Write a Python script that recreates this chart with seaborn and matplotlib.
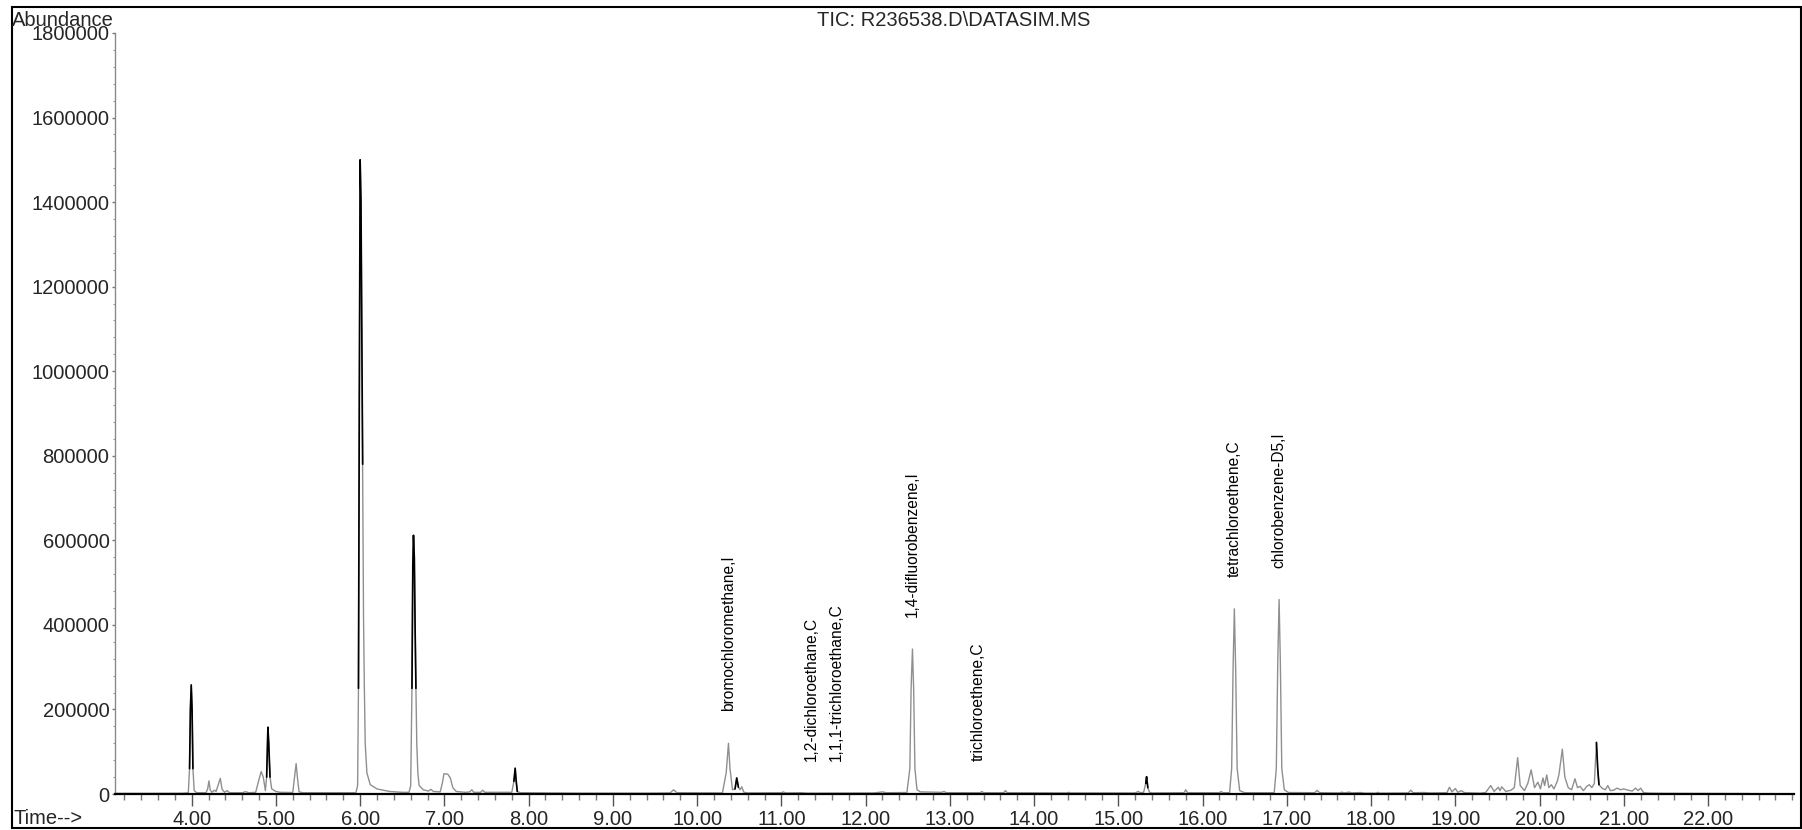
import numpy as np
import pandas as pd
import matplotlib
matplotlib.use("Agg")
import matplotlib.pyplot as plt
from matplotlib.patches import Rectangle
from matplotlib.ticker import MultipleLocator, FixedLocator, FuncFormatter
import seaborn as sns

# ---- TIC trace (retention time in minutes, abundance) ----
early_time = [3.09, 3.50, 3.90, 3.96, 3.975, 3.985, 3.995, 4.005, 4.015, 4.03, 4.06,
              4.17, 4.19, 4.205, 4.22, 4.24, 4.27, 4.29, 4.32, 4.34, 4.36, 4.39, 4.42,
              4.45, 4.60, 4.64, 4.68, 4.76, 4.80, 4.825, 4.85, 4.875, 4.89, 4.905,
              4.915, 4.93, 4.95, 5.00, 5.05, 5.20, 5.225, 5.24, 5.255, 5.275, 5.32,
              5.95, 5.97, 5.98, 5.99, 6.00, 6.01, 6.02, 6.03, 6.04, 6.05, 6.06, 6.08,
              6.12, 6.20, 6.35, 6.50, 6.58, 6.60, 6.615, 6.625, 6.633, 6.643, 6.652,
              6.662, 6.672, 6.685, 6.70, 6.75, 6.81, 6.84, 6.87, 6.95, 6.975, 6.995,
              7.04, 7.07, 7.10, 7.14, 7.25, 7.30, 7.325, 7.35, 7.43, 7.455, 7.48,
              7.80, 7.825, 7.84, 7.85, 7.865, 7.90, 8.20]
early_abund = [1500, 1500, 1800, 3000, 60000, 200000, 258000, 200000, 60000, 8000, 3000,
               3000, 12000, 31000, 10000, 4000, 9000, 6000, 25000, 37000, 12000, 4000, 8000,
               3000, 3000, 5500, 3000, 4000, 35000, 53000, 40000, 8000, 40000, 158000,
               120000, 40000, 12000, 6000, 4000, 3500, 45000, 72000, 40000, 5000, 3000,
               3000, 20000, 250000, 930000, 1500000, 1400000, 1080000, 780000, 420000,
               250000, 120000, 50000,
               22000, 12000, 6000, 4000, 4000, 20000, 250000, 540000, 612000, 560000, 400000,
               250000, 120000, 50000, 20000, 10000, 7000, 11000, 6000, 5000, 25000, 48000,
               47000, 38000, 15000, 6000, 4000, 5000, 10000, 4000, 4000, 9000, 4000,
               4000, 30000, 61000, 35000, 6000, 3000, 2500]

mid_time = [8.60, 9.40, 9.68, 9.72, 9.76, 10.30, 10.345, 10.372, 10.39, 10.42, 10.45,
            10.47, 10.49, 10.51, 10.53, 10.555, 10.60, 11.00, 11.02, 11.05, 11.24, 11.30,
            12.10, 12.20, 12.25, 12.49, 12.525, 12.54, 12.556, 12.57, 12.585, 12.61, 12.65,
            12.90, 12.93, 12.96, 13.36, 13.38, 13.40, 13.64, 13.66, 13.68, 14.39, 14.41,
            14.43, 14.70, 15.20, 15.235, 15.26, 15.30, 15.325, 15.335, 15.35, 15.37, 15.40,
            15.78, 15.80, 15.82, 16.00]
mid_abund = [2000, 2000, 2500, 10000, 3000, 2500, 50000, 120000, 60000, 10000, 12000,
             38000, 16000, 10000, 17000, 4000, 2500, 3000, 5000, 2500, 3000, 2000,
             2500, 5000, 3000, 3500, 60000, 250000, 343000, 250000, 60000, 10000, 5000,
             4000, 6000, 3000, 3000, 6000, 3000, 3000, 8000, 3000, 2500, 4000,
             2500, 2500, 2500, 6000, 3000, 4000, 25000, 41000, 15000, 4000, 2500,
             3000, 10000, 3000, 3000]

late_time = [16.20, 16.22, 16.24, 16.32, 16.345, 16.362, 16.377, 16.392, 16.41, 16.44, 16.50,
             16.85, 16.875, 16.893, 16.908, 16.923, 16.94, 16.97, 17.02, 17.33, 17.36, 17.39,
             17.63, 17.65, 17.68, 17.74, 17.77, 17.88, 17.92, 18.06, 18.08, 18.10, 18.44,
             18.47, 18.50, 18.63, 18.70, 18.90, 18.93, 18.96, 19.00, 19.03, 19.07, 19.11,
             19.30, 19.36, 19.42, 19.46, 19.51, 19.53, 19.55, 19.60, 19.66, 19.70, 19.74,
             19.77, 19.82, 19.86, 19.90, 19.94, 19.98, 20.01, 20.04, 20.06, 20.085, 20.11,
             20.14, 20.17, 20.21, 20.23, 20.27, 20.30, 20.34, 20.38, 20.42, 20.45, 20.48,
             20.52, 20.56, 20.59, 20.62, 20.65, 20.675, 20.69, 20.705, 20.74, 20.78, 20.81,
             20.84, 20.88, 20.92, 20.96, 21.00, 21.05, 21.10, 21.14, 21.17, 21.20, 21.235,
             21.30, 21.50, 22.50]
late_abund = [3000, 6000, 3000, 3000, 60000, 300000, 438000, 300000, 60000, 8000, 3000,
              3000, 60000, 320000, 460000, 310000, 60000, 10000, 3500, 3000, 8500, 3000,
              2500, 4500, 2500, 4500, 2500, 3500, 2000, 2000, 4000, 2000, 2500,
              9000, 3000, 3500, 2500, 3000, 16000, 5000, 13000, 4000, 8000, 3000,
              2000, 3500, 20000, 6000, 16000, 8000, 17000, 6000, 9000, 15000, 86000,
              20000, 8000, 25000, 57000, 15000, 28000, 12000, 38000, 20000, 45000, 15000,
              22000, 12000, 30000, 46000, 106000, 40000, 15000, 10000, 36000, 15000, 18000,
              8000, 18000, 22000, 15000, 25000, 122000, 60000, 22000, 14000, 10000, 20000,
              8000, 9000, 14000, 10000, 12000, 9000, 7000, 14000, 8000, 14000, 3000,
              2000, 1500, 1000]

# ---- identified compounds ----
compounds = ["bromochloromethane,I", "1,2-dichloroethane,C", "1,1,1-trichloroethane,C",
             "1,4-difluorobenzene,I", "trichloroethene,C", "tetrachloroethene,C",
             "chlorobenzene-D5,I"]
compound_rt = [10.372, 11.355, 11.656, 12.556, 13.334, 16.377, 16.908]

# peaks whose apex region is drawn in solid black
dark_rt = [3.995, 4.905, 6.00, 6.633, 7.84, 10.47, 15.335, 20.675]

x_ticks = [4, 5, 6, 7, 8, 9, 10, 11, 12, 13, 14, 15, 16, 17, 18, 19, 20, 21, 22]
y_ticks = [0, 200000, 400000, 600000, 800000, 1000000, 1200000, 1400000, 1600000, 1800000]

trace = pd.DataFrame({
    "time": early_time + mid_time + late_time,
    "abundance": early_abund + mid_abund + late_abund,
})

sns.set_style("white")
plt.rcParams["font.family"] = ["Liberation Sans", "DejaVu Sans"]

W, H = 1802, 830
fig = plt.figure(figsize=(W / 100, H / 100), dpi=100)
ax = fig.add_axes([115 / W, 1 - 794 / H, (1794 - 115) / W, (794 - 33) / H])

sns.lineplot(data=trace, x="time", y="abundance", ax=ax, color="#8f8f8f",
             linewidth=1.0, estimator=None, sort=False)

t = trace["time"].to_numpy()
a = trace["abundance"].to_numpy()
for rt in dark_rt:
    m = (t >= rt - 0.022) & (t <= rt + 0.03)
    ax.plot(t[m], a[m], color="black", linewidth=1.2)

ax.set_xlim(3.09, 23.02)
ax.set_ylim(0, 1800000)
ax.set_xlabel("")
ax.set_ylabel("")

ax.xaxis.set_major_locator(FixedLocator(x_ticks))
ax.xaxis.set_major_formatter(FuncFormatter(lambda v, p: f"{v:.2f}"))
ax.xaxis.set_minor_locator(MultipleLocator(0.2))
ax.yaxis.set_major_locator(FixedLocator(y_ticks))
ax.yaxis.set_major_formatter(FuncFormatter(lambda v, p: f"{int(round(v))}"))
ax.yaxis.set_minor_locator(MultipleLocator(40000))

for s in ["top", "right"]:
    ax.spines[s].set_visible(False)
ax.spines["bottom"].set_color("black")
ax.spines["bottom"].set_linewidth(1.6)
ax.spines["left"].set_color("#8a8a8a")
ax.spines["left"].set_linewidth(1.0)

ax.tick_params(axis="x", which="major", direction="out", length=8.5, width=1.0,
               color="#555555", labelsize=14.5, pad=3, bottom=True)
ax.tick_params(axis="x", which="minor", direction="out", length=4.3, width=1.0,
               color="#777777", bottom=True)
ax.tick_params(axis="y", which="major", direction="out", length=2.5, width=1.0,
               color="#777777", labelsize=14.5, pad=1.5, left=True)
ax.tick_params(axis="y", which="minor", direction="out", length=1.5, width=0.8,
               color="#999999", left=True)
ax.grid(False)

# compound annotations just above each peak apex
for name, rt in zip(compounds, compound_rt):
    m = (t >= rt - 0.03) & (t <= rt + 0.03)
    apex = a[m].max() if m.any() else np.interp(rt, t, a)
    ax.annotate(name, xy=(rt, apex), xytext=(0, 23), textcoords="offset points",
                rotation=90, ha="center", va="bottom", fontsize=11.2, color="black")

fig.text(954 / W, 1 - 21 / H, "TIC: R236538.D\\DATASIM.MS", ha="center", va="center",
         fontsize=14.5)
fig.text(12 / W, 1 - 20 / H, "Abundance", ha="left", va="center", fontsize=14.5)
fig.text(14 / W, 1 - 818 / H, "Time-->", ha="left", va="center", fontsize=14.5)

fig.patches.append(Rectangle((12 / W, 1 - 828 / H), (1801 - 12) / W, (828 - 7) / H,
                             transform=fig.transFigure, fill=False, edgecolor="black",
                             linewidth=1.5))

fig.savefig("out.png", dpi=100)
